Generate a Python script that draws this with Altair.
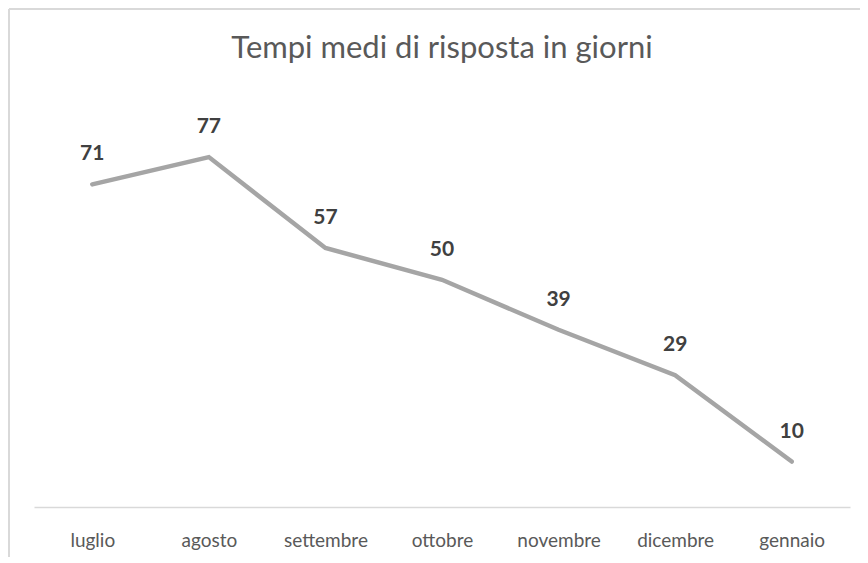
import altair as alt
import pandas as pd

months = ["luglio", "agosto", "settembre", "ottobre", "novembre", "dicembre", "gennaio"]
days = [71, 77, 57, 50, 39, 29, 10]

df = pd.DataFrame({"mese": months, "giorni": days})

FONT = "Lato"
W, H = 816, 409

x = alt.X("mese:N", sort=months, scale=alt.Scale(type="point", padding=0.5),
          axis=alt.Axis(title=None, labelAngle=0, ticks=False, grid=False,
                        domainColor="#d9d9d9", domainWidth=1.5,
                        labelColor="#595959", labelFontSize=19, labelFont=FONT,
                        labelPadding=24))
y = alt.Y("giorni:Q", scale=alt.Scale(domain=[0, 90]), axis=None)

base = alt.Chart(df)

line = base.mark_line(color="#a5a5a5", strokeWidth=4.5, strokeCap="round",
                      strokeJoin="miter").encode(x=x, y=y)

labels = base.mark_text(dy=-30, fontSize=21, fontWeight="bold", color="#404040",
                        font=FONT).encode(x=x, y=y, text="giorni:Q")

border_left = alt.Chart(df.head(1)).mark_rule(color="#d9d9d9", strokeWidth=2).encode(
    x=alt.value(-25), y=alt.value(-89), y2=alt.value(470))
border_top = alt.Chart(df.head(1)).mark_rule(color="#d9d9d9", strokeWidth=2).encode(
    x=alt.value(-25), x2=alt.value(840), y=alt.value(-89))

chart = alt.layer(border_left, border_top, line, labels).properties(
    width=W, height=H,
    title=alt.TitleParams("Tempi medi di risposta in giorni", anchor="middle",
                          fontSize=31, font=FONT, fontWeight="normal",
                          color="#595959", offset=-57),
    autosize=alt.AutoSizeParams(type="none"),
    padding={"left": 26, "top": 90, "right": 10, "bottom": 50},
).configure_view(stroke=None)

chart.save("out.html", embed_options={"renderer": "svg", "actions": False})
